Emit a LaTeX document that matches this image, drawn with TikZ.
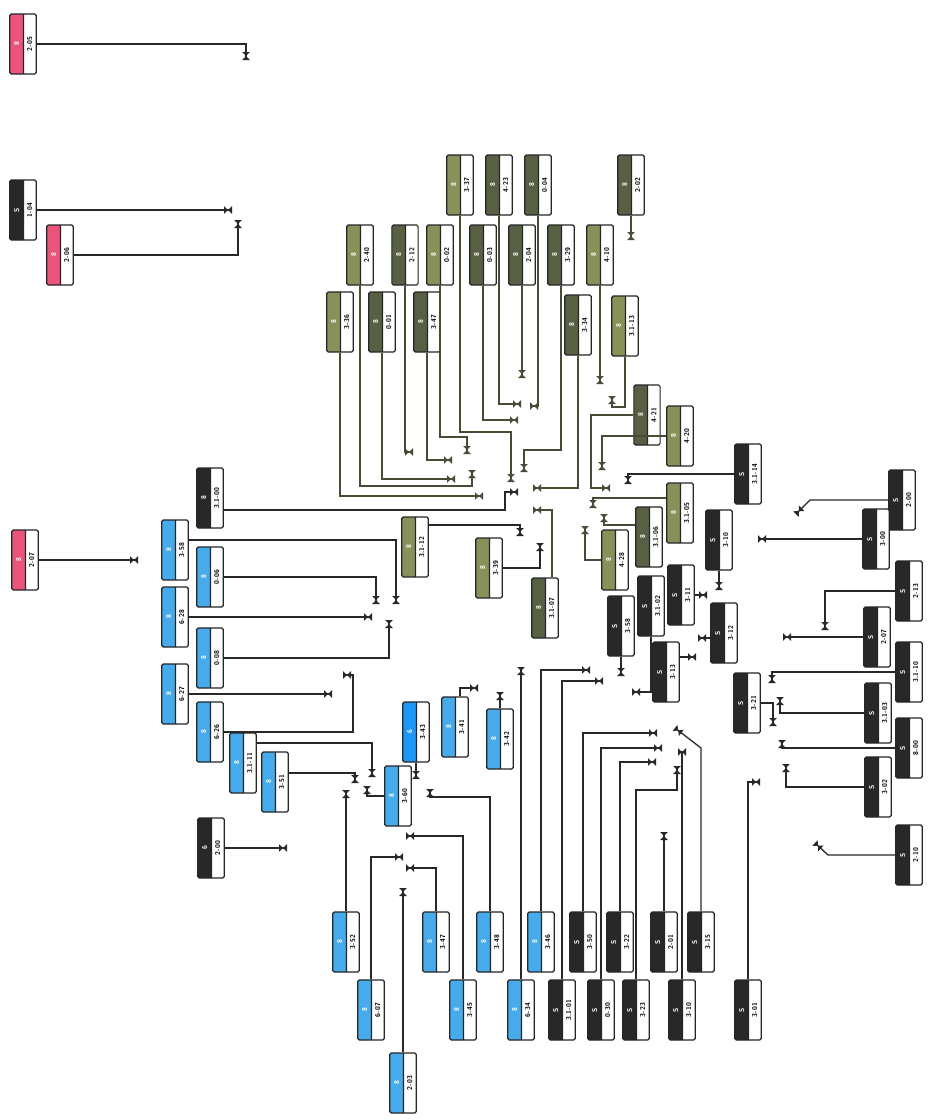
\documentclass[tikz,border=0pt]{standalone}
\usepackage{tikz}
\usetikzlibrary{arrows.meta, shapes.multipart}

\definecolor{tagpink}{RGB}{234,84,122}
\definecolor{tagblack}{RGB}{40,40,40}
\definecolor{tagblue}{RGB}{70,170,235}
\definecolor{tagbright}{RGB}{30,150,245}
\definecolor{olivedark}{RGB}{88,96,68}
\definecolor{olivelight}{RGB}{135,145,90}
\definecolor{wirecol}{RGB}{40,40,40}
\definecolor{olivewire}{RGB}{70,76,54}

\begin{document}
\begin{tikzpicture}[
        x=1pt, y=-1pt,
        tag/.style={rectangle split, rectangle split parts=2, draw=black!85, line width=1.2pt,
            rounded corners=1.5pt, rotate=90, minimum width=60pt, text width=52pt, align=center,
            inner xsep=4pt, inner ysep=3.2pt, text height=5.5pt, text depth=0.5pt,
            font=\fontsize{7}{7}\selectfont\sffamily\bfseries},
        ptag/.style={tag, rectangle split part fill={tagpink, white}},
        ktag/.style={tag, rectangle split part fill={tagblack, white}},
        btag/.style={tag, rectangle split part fill={tagblue, white}},
        bbtag/.style={tag, rectangle split part fill={tagbright, white}},
        dtag/.style={tag, rectangle split part fill={olivedark, white}},
        ltag/.style={tag, rectangle split part fill={olivelight, white}},
        wire/.style={draw=wirecol, line width=1.3pt},
        owire/.style={draw=olivewire, line width=1.3pt},
        valve/.style={-{Triangle[length=4pt,width=7.5pt] Triangle[length=4pt,width=7.5pt,reversed]}}
    ]
        \fill[white] (0,0) rectangle (930,1120);
        \useasboundingbox (0,0) rectangle (930,1120);

        % Thẻ hồng
        \node[ptag] (t205) at (23,44) {\color{white}8\nodepart{two}2-05};
        \node[ptag] (t206) at (60,255) {\color{white}8\nodepart{two}2-06};
        \node[ptag] (t207) at (25,560) {\color{white}8\nodepart{two}2-07};

        % Thẻ đen
        \node[ktag] (t104) at (23,210) {\color{white}S\nodepart{two}1-04};
        \node[ktag] (t3100) at (210,498) {\color{white}8\nodepart{two}3.1-00};
        \node[ktag] (t200l) at (211,848) {\color{white}6\nodepart{two}2-00};
        \node[ktag] (t3114) at (748,474) {\color{white}S\nodepart{two}3.1-14};
        \node[ktag] (t310u) at (719,540) {\color{white}S\nodepart{two}3-10};
        \node[ktag] (t311) at (681,595) {\color{white}S\nodepart{two}3-11};
        \node[ktag] (t3102) at (651,606) {\color{white}S\nodepart{two}3.1-02};
        \node[ktag] (t358m) at (621,626) {\color{white}S\nodepart{two}3-58};
        \node[ktag] (t313) at (666,672) {\color{white}S\nodepart{two}3-13};
        \node[ktag] (t312) at (724,633) {\color{white}S\nodepart{two}3-12};
        \node[ktag] (t321) at (747,703) {\color{white}S\nodepart{two}3-21};
        \node[ktag] (t200r) at (902,500) {\color{white}S\nodepart{two}2-00};
        \node[ktag] (t300) at (876,539) {\color{white}S\nodepart{two}3-00};
        \node[ktag] (t213) at (909,591) {\color{white}S\nodepart{two}2-13};
        \node[ktag] (t207b) at (877,637) {\color{white}S\nodepart{two}2-07};
        \node[ktag] (t3110) at (909,672) {\color{white}S\nodepart{two}3.1-10};
        \node[ktag] (t3103) at (878,713) {\color{white}S\nodepart{two}3.1-03};
        \node[ktag] (t800) at (909,748) {\color{white}S\nodepart{two}8-00};
        \node[ktag] (t302) at (878,787) {\color{white}S\nodepart{two}3-02};
        \node[ktag] (t210) at (909,855) {\color{white}S\nodepart{two}2-10};
        \node[ktag] (t350) at (583,942) {\color{white}S\nodepart{two}3-50};
        \node[ktag] (t322) at (620,942) {\color{white}S\nodepart{two}3-22};
        \node[ktag] (t201) at (664,942) {\color{white}S\nodepart{two}2-01};
        \node[ktag] (t315) at (701,942) {\color{white}S\nodepart{two}3-15};
        \node[ktag] (t3101) at (562,1010) {\color{white}S\nodepart{two}3.1-01};
        \node[ktag] (t030) at (601,1010) {\color{white}S\nodepart{two}0-30};
        \node[ktag] (t323) at (636,1010) {\color{white}S\nodepart{two}3-23};
        \node[ktag] (t310l) at (682,1010) {\color{white}S\nodepart{two}3-10};
        \node[ktag] (t301) at (748,1010) {\color{white}S\nodepart{two}3-01};

        % Thẻ xanh
        \node[btag] (t358) at (175,550) {\color{white}8\nodepart{two}3-58};
        \node[btag] (t628) at (175,617) {\color{white}8\nodepart{two}6-28};
        \node[btag] (t627) at (175,694) {\color{white}8\nodepart{two}6-27};
        \node[btag] (t006) at (210,577) {\color{white}8\nodepart{two}0-06};
        \node[btag] (t008) at (210,658) {\color{white}8\nodepart{two}0-08};
        \node[btag] (t626) at (210,732) {\color{white}8\nodepart{two}6-26};
        \node[btag] (t3111) at (243,763) {\color{white}8\nodepart{two}3.1-11};
        \node[btag] (t351) at (275,782) {\color{white}8\nodepart{two}3-51};
        \node[bbtag] (t343) at (416,732) {\color{white}6\nodepart{two}3-43};
        \node[btag] (t360) at (398,796) {\color{white}8\nodepart{two}3-60};
        \node[btag] (t341) at (455,727) {\color{white}8\nodepart{two}3-41};
        \node[btag] (t342) at (500,739) {\color{white}8\nodepart{two}3-42};
        \node[btag] (t352) at (346,942) {\color{white}8\nodepart{two}3-52};
        \node[btag] (t607) at (371,1010) {\color{white}8\nodepart{two}6-07};
        \node[btag] (t347b) at (436,942) {\color{white}8\nodepart{two}3-47};
        \node[btag] (t345) at (463,1010) {\color{white}8\nodepart{two}3-45};
        \node[btag] (t348) at (490,942) {\color{white}8\nodepart{two}3-48};
        \node[btag] (t203) at (403,1083) {\color{white}8\nodepart{two}2-03};
        \node[btag] (t346) at (541,942) {\color{white}8\nodepart{two}3-46};
        \node[btag] (t634) at (521,1010) {\color{white}8\nodepart{two}6-34};

        % Thẻ ô liu
        \node[ltag] (t337) at (460,185) {\color{white}8\nodepart{two}3-37};
        \node[dtag] (t423) at (499,185) {\color{white}8\nodepart{two}4-23};
        \node[dtag] (t004) at (538,185) {\color{white}8\nodepart{two}0-04};
        \node[dtag] (t202) at (631,185) {\color{white}8\nodepart{two}2-02};
        \node[ltag] (t240) at (360,255) {\color{white}8\nodepart{two}2-40};
        \node[dtag] (t212) at (405,255) {\color{white}8\nodepart{two}2-12};
        \node[ltag] (t002) at (440,255) {\color{white}8\nodepart{two}0-02};
        \node[dtag] (t003) at (483,255) {\color{white}8\nodepart{two}0-03};
        \node[dtag] (t204) at (522,255) {\color{white}8\nodepart{two}2-04};
        \node[dtag] (t329) at (561,255) {\color{white}8\nodepart{two}3-29};
        \node[ltag] (t410) at (600,255) {\color{white}8\nodepart{two}4-10};
        \node[ltag] (t336) at (340,322) {\color{white}8\nodepart{two}3-36};
        \node[dtag] (t001) at (382,322) {\color{white}8\nodepart{two}0-01};
        \node[dtag] (t347o) at (427,322) {\color{white}8\nodepart{two}3-47};
        \node[dtag] (t334) at (578,325) {\color{white}8\nodepart{two}3-34};
        \node[ltag] (t3113) at (625,326) {\color{white}8\nodepart{two}3.1-13};
        \node[dtag] (t421) at (647,415) {\color{white}8\nodepart{two}4-21};
        \node[ltag] (t420) at (680,436) {\color{white}8\nodepart{two}4-20};
        \node[ltag] (t3105) at (680,513) {\color{white}8\nodepart{two}3.1-05};
        \node[dtag] (t3106) at (649,537) {\color{white}8\nodepart{two}3.1-06};
        \node[ltag] (t428) at (615,560) {\color{white}8\nodepart{two}4-28};
        \node[ltag] (t339) at (489,568) {\color{white}8\nodepart{two}3-39};
        \node[ltag] (t3112) at (415,547) {\color{white}8\nodepart{two}3.1-12};
        \node[dtag] (t3107) at (545,608) {\color{white}8\nodepart{two}3.1-07};

        % Điểm cuối của các đường nối
        \coordinate (m205) at (246,60);
        \coordinate (m104) at (232,210);
        \coordinate (m206) at (238,220);
        \coordinate (m207) at (138,560);
        \coordinate (m336) at (483,496);
        \coordinate (m240) at (472,470);
        \coordinate (m001) at (455,479);
        \coordinate (m212) at (413,452);
        \coordinate (m347o) at (452,460);
        \coordinate (m002) at (467,454);
        \coordinate (m337) at (511,482);
        \coordinate (m003) at (518,420);
        \coordinate (m423) at (521,404);
        \coordinate (m204) at (522,378);
        \coordinate (m004) at (530,406);
        \coordinate (m329) at (524,472);
        \coordinate (m334) at (533,488);
        \coordinate (m410) at (600,384);
        \coordinate (m3113) at (612,396);
        \coordinate (m202) at (631,240);
        \coordinate (m421) at (610,488);
        \coordinate (m420) at (602,470);
        \coordinate (m3105) at (593,508);
        \coordinate (m3106) at (604,514);
        \coordinate (m428) at (585,526);
        \coordinate (m3114) at (628,484);
        \coordinate (m339) at (540,543);
        \coordinate (m3112) at (520,536);
        \coordinate (m3107) at (533,510);
        \coordinate (m3100) at (518,492);
        \coordinate (m358) at (396,604);
        \coordinate (m006) at (376,604);
        \coordinate (m628) at (372,617);
        \coordinate (m008) at (389,620);
        \coordinate (m627) at (332,694);
        \coordinate (m626) at (343,675);
        \coordinate (m3111) at (372,777);
        \coordinate (m351) at (355,783);
        \coordinate (m352) at (346,790);
        \coordinate (m360) at (367,786);
        \coordinate (m343) at (416,779);
        \coordinate (m348) at (430,789);
        \coordinate (m341) at (478,688);
        \coordinate (m342) at (500,692);
        \coordinate (m200l) at (287,848);
        \coordinate (m607) at (403,857);
        \coordinate (m345) at (406,836);
        \coordinate (m347b) at (406,868);
        \coordinate (m203) at (403,888);
        \coordinate (m634) at (521,667);
        \coordinate (m346) at (590,670);
        \coordinate (m3101) at (603,681);
        \coordinate (m358m) at (621,676);
        \coordinate (m3102) at (632,692);
        \coordinate (m310u) at (719,590);
        \coordinate (m311) at (707,595);
        \coordinate (m313) at (696,657);
        \coordinate (m312) at (698,638);
        \coordinate (m321) at (773,726);
        \coordinate (m350) at (657,733);
        \coordinate (m030) at (662,748);
        \coordinate (m322) at (656,762);
        \coordinate (m323) at (677,766);
        \coordinate (m310l) at (686,752);
        \coordinate (m315) at (675,728);
        \coordinate (m201) at (664,832);
        \coordinate (m301) at (760,782);
        \coordinate (m213) at (825,630);
        \coordinate (m207b) at (783,637);
        \coordinate (m3110) at (772,683);
        \coordinate (m3103) at (780,697);
        \coordinate (m800) at (782,740);
        \coordinate (m302) at (786,764);
        \coordinate (m210) at (815,843);
        \coordinate (m200r) at (796,514);
        \coordinate (m300) at (758,539);

        % Các đường nối
        \draw[wire, valve] (t205.south) -| (m205);
        \draw[wire, valve] (t104.south) -- (m104);
        \draw[wire, valve] (t206.south) -| (m206);
        \draw[wire, valve] (t207.south) -- (m207);

        \draw[owire, valve] (t336.west) |- (m336);
        \draw[owire, valve] (t240.west) |- (472,486) -- (m240);
        \draw[owire, valve] (t001.west) |- (m001);
        \draw[owire, valve] (t212.west) |- (m212);
        \draw[owire, valve] (t347o.west) |- (m347o);
        \draw[owire, valve] (t002.west) |- (467,437) -- (m002);
        \draw[owire, valve] (t337.west) |- (511,432) -- (m337);
        \draw[owire, valve] (t003.west) |- (m003);
        \draw[owire, valve] (t423.west) |- (m423);
        \draw[owire, valve] (t204.west) -- (m204);
        \draw[owire, valve] (t004.west) |- (m004);
        \draw[owire, valve] (t329.west) |- (524,450) -- (m329);
        \draw[owire, valve] (t334.west) |- (m334);
        \draw[owire, valve] (t410.west) -- (m410);
        \draw[owire, valve] (t3113.west) |- (612,407) -- (m3113);
        \draw[owire, valve] (t202.west) -- (m202);
        \draw[owire, valve] (t421.north) -| (591,488) -- (m421);
        \draw[owire, valve] (t420.north) -| (m420);
        \draw[owire, valve] ([yshift=15pt]t3105.north) -| (m3105);
        \draw[owire, valve] ([yshift=12pt]t3106.north) -| (m3106);
        \draw[owire, valve] (t428.north) -| (m428);
        \draw[wire, valve] (t3114.north) -| (m3114);
        \draw[wire, valve] (t339.south) -| (m339);
        \draw[wire, valve] ([yshift=22pt]t3112.south) -| (m3112);
        \draw[owire, valve] ([xshift=7pt]t3107.east) |- (m3107);

        \draw[wire, valve] ([yshift=-12pt]t3100.south) -| (505,492) -- (m3100);
        \draw[wire, valve] ([yshift=10pt]t358.south) -| (m358);
        \draw[wire, valve] (t006.south) -| (m006);
        \draw[wire, valve] (t628.south) -- (m628);
        \draw[wire, valve] (t008.south) -| (m008);
        \draw[wire, valve] (t627.south) -- (m627);
        \draw[wire, valve] (t626.south) -| (353,675) -- (m626);
        \draw[wire, valve] ([yshift=20pt]t3111.south) -| (m3111);
        \draw[wire, valve] ([yshift=9pt]t351.south) -| (m351);
        \draw[wire, valve] (t352.east) -- (m352);
        \draw[wire, valve] (t360.north) -| (m360);
        \draw[wire, valve] (t343.west) -- (m343);
        \draw[wire, valve] (t348.east) |- (430,797) -- (m348);
        \draw[wire, valve] ([xshift=5pt]t341.east) |- (m341);
        \draw[wire, valve] (t342.east) -- (m342);
        \draw[wire, valve] (t200l.south) -- (m200l);

        \draw[wire, valve] (t607.east) |- (m607);
        \draw[wire, valve] (t345.east) |- (m345);
        \draw[wire, valve] (t347b.east) |- (m347b);
        \draw[wire, valve] (t203.east) -- (m203);

        \draw[wire, valve] (t634.east) -- (m634);
        \draw[wire, valve] (t346.east) |- (m346);
        \draw[wire, valve] (t3101.east) |- (m3101);
        \draw[wire, valve] (t358m.west) -- (m358m);
        \draw[wire, valve] (t3102.west) |- (m3102);
        \draw[wire, valve] (t310u.west) -- (m310u);
        \draw[wire, valve] (t311.south) -- (m311);
        \draw[wire, valve] ([yshift=15pt]t313.south) -- (m313);
        \draw[wire, valve] ([yshift=-5pt]t312.north) -- (m312);
        \draw[wire, valve] (t321.south) -| (m321);

        \draw[wire, valve] (t350.east) |- (m350);
        \draw[wire, valve] (t030.east) |- (m030);
        \draw[wire, valve] (t322.east) |- (m322);
        \draw[wire, valve] (t323.east) |- (677,790) -- (m323);
        \draw[wire, valve] (t310l.east) |- (m310l);
        \draw[wire, valve] (t315.east) -- (701,748) -- (m315);
        \draw[wire, valve] (t201.east) -- (m201);
        \draw[wire, valve] (t301.east) |- (m301);

        \draw[wire, valve] (t213.north) -| (m213);
        \draw[wire, valve] (t207b.north) -- (m207b);
        \draw[wire, valve] (t3110.north) -| (m3110);
        \draw[wire, valve] (t3103.north) -| (m3103);
        \draw[wire, valve] (t800.north) -| (m800);
        \draw[wire, valve] (t302.north) -| (m302);
        \draw[wire, valve] (t210.north) -- (828,855) -- (m210);
        \draw[wire, valve] (t200r.north) -- (810,500) -- (m200r);
        \draw[wire, valve] (t300.north) -- (m300);
    \end{tikzpicture}
\end{document}
